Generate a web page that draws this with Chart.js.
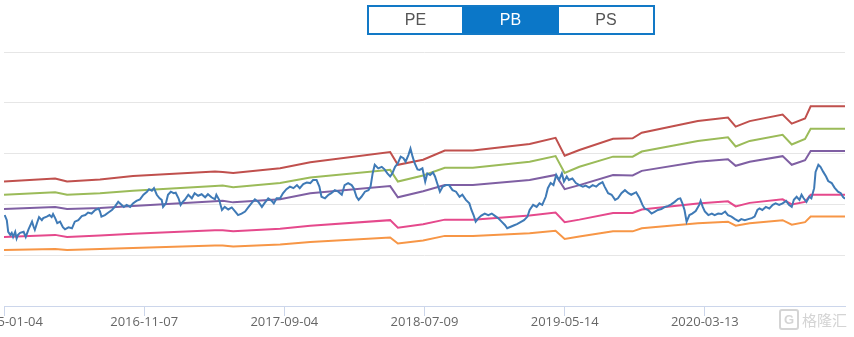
<!DOCTYPE html>
<html>
<head>
<meta charset="utf-8">
<script src="https://cdn.jsdelivr.net/npm/chart.js@4.4.1/dist/chart.umd.min.js"></script>
<style>
  html, body { margin: 0; padding: 0; background: #fff; width: 854px; height: 337px; overflow: hidden; }
  #wrap { position: absolute; left: -60px; top: 0; width: 914px; height: 337px; }
  .tabs { position: absolute; left: 367px; top: 5px; width: 288px; height: 30px; box-sizing: border-box;
          border: 2px solid #1279c6; display: flex; font-family: "Liberation Sans", Arial, sans-serif; font-size: 16px; }
  .tabs div { text-align: center; line-height: 26px; color: #555; }
  .tabs .on { background: #0b77c8; color: #fff; }
  .mark { position: absolute; left: 779px; top: 308px; height: 22px; display: flex; align-items: center; color: #d4d4d4; }
  .mark .g { width: 16px; height: 17px; border: 2px solid #d4d4d4; border-radius: 3px; font: bold 13px "Liberation Sans", sans-serif;
             line-height: 17px; text-align: center; margin-right: 3px; }
  .mark .t { font: 15px "Noto Sans CJK SC", sans-serif; letter-spacing: 0px; }
</style>
</head>
<body>
<div id="wrap"><canvas id="c"></canvas></div>
<div class="tabs">
  <div style="width:93px">PE</div>
  <div class="on" style="width:97px">PB</div>
  <div style="width:94px">PS</div>
</div>
<div class="mark"><div class="g">G</div><div class="t">格隆汇</div></div>
<script>
// x axis: trading-day index, labelled every 200 days
const tickDays = [0, 200, 400, 600, 800, 1000];
const tickLabels = ['2015-01-04', '2016-11-07', '2017-09-04', '2018-07-09', '2019-05-14', '2020-03-13'];

// daily PB (trading day, value)
const pbPoints = [
  [1,1.79],[4,1.69],[6,1.46],[9,1.40],[11,1.44],[13,1.36],[16,1.46],[18,1.33],[20,1.40],[23,1.44],
  [28,1.46],[31,1.36],[35,1.51],[40,1.66],[42,1.57],[44,1.50],[47,1.63],[50,1.75],[54,1.69],[56,1.73],
  [61,1.76],[65,1.79],[68,1.75],[70,1.81],[73,1.73],[76,1.63],[80,1.66],[84,1.55],[87,1.51],[92,1.55],
  [97,1.53],[101,1.66],[106,1.69],[111,1.77],[116,1.79],[120,1.84],[125,1.82],[130,1.89],[135,1.92],[137,1.86],
  [139,1.76],[144,1.79],[149,1.84],[154,1.89],[158,1.95],[163,2.05],[168,1.99],[171,1.95],[175,1.99],[180,1.95],
  [184,2.02],[189,2.07],[194,2.10],[199,2.19],[204,2.25],[207,2.30],[211,2.27],[214,2.32],[218,2.19],[222,2.12],
  [225,2.09],[227,1.95],[231,2.02],[234,2.19],[238,2.25],[242,2.22],[245,2.23],[249,2.12],[252,1.99],[255,2.05],
  [258,2.09],[263,2.19],[268,2.12],[272,2.22],[277,2.17],[282,2.20],[287,2.14],[291,2.20],[296,2.14],[301,2.10],
  [303,2.19],[307,2.09],[311,1.89],[315,1.95],[320,1.90],[325,1.94],[330,1.86],[334,1.79],[339,1.82],[344,1.86],
  [349,1.95],[353,2.02],[358,2.10],[363,2.05],[368,1.95],[372,2.03],[377,2.12],[382,2.07],[385,2.02],[389,2.12],
  [394,2.12],[398,2.22],[403,2.30],[408,2.35],[413,2.32],[418,2.38],[422,2.32],[427,2.40],[432,2.43],[437,2.42],
  [441,2.48],[446,2.48],[450,2.35],[453,2.15],[458,2.12],[463,2.19],[467,2.22],[472,2.28],[477,2.25],[482,2.19],
  [486,2.38],[491,2.42],[496,2.38],[499,2.32],[503,2.15],[506,2.09],[510,2.15],[515,2.25],[520,2.28],[523,2.35],
  [526,2.61],[529,2.78],[534,2.71],[539,2.74],[543,2.69],[547,2.61],[551,2.55],[554,2.61],[558,2.74],[562,2.81],
  [566,2.94],[570,2.91],[573,2.84],[577,2.97],[580,3.10],[583,2.94],[586,2.81],[590,2.69],[593,2.68],[597,2.71],
  [601,2.45],[604,2.61],[608,2.58],[612,2.63],[615,2.55],[618,2.42],[622,2.25],[626,2.35],[631,2.38],[635,2.38],
  [640,2.28],[645,2.25],[650,2.15],[654,2.19],[659,2.09],[664,2.02],[667,1.89],[670,1.79],[673,1.66],[677,1.73],
  [681,1.78],[686,1.82],[691,1.79],[696,1.82],[700,1.78],[705,1.73],[710,1.66],[715,1.59],[718,1.53],[723,1.56],
  [728,1.59],[732,1.61],[737,1.65],[742,1.69],[747,1.76],[750,1.89],[755,1.99],[760,1.95],[764,2.02],[768,1.99],
  [773,2.15],[776,2.32],[780,2.42],[784,2.38],[788,2.58],[792,2.48],[796,2.61],[799,2.45],[803,2.55],[806,2.48],
  [811,2.51],[816,2.42],[821,2.38],[826,2.35],[830,2.37],[835,2.33],[840,2.38],[845,2.35],[849,2.40],[854,2.44],
  [857,2.35],[862,2.22],[867,2.19],[872,2.09],[876,2.12],[881,2.22],[886,2.28],[891,2.22],[895,2.19],[902,2.24],
  [907,2.12],[911,1.99],[914,1.92],[919,1.89],[924,1.82],[929,1.86],[933,1.89],[938,1.91],[943,1.95],[948,1.97],
  [952,2.00],[957,2.05],[962,2.11],[965,2.12],[968,2.02],[971,1.89],[974,1.66],[978,1.79],[982,1.82],[987,1.87],
  [992,1.99],[994,2.07],[997,1.95],[1000,1.86],[1005,1.79],[1010,1.82],[1014,1.79],[1019,1.82],[1024,1.81],[1029,1.86],
  [1033,1.79],[1038,1.76],[1043,1.71],[1048,1.67],[1052,1.71],[1057,1.69],[1062,1.71],[1067,1.73],[1071,1.76],[1075,1.89],
  [1078,1.92],[1082,1.89],[1087,1.95],[1092,1.92],[1097,1.99],[1101,2.02],[1106,1.99],[1111,2.02],[1116,2.07],[1120,1.99],
  [1124,1.95],[1127,2.09],[1131,2.15],[1135,2.09],[1138,2.19],[1141,2.12],[1145,2.05],[1149,2.15],[1152,2.12],[1156,2.32],
  [1158,2.64],[1162,2.78],[1165,2.74],[1169,2.64],[1173,2.55],[1176,2.46],[1181,2.42],[1185,2.33],[1190,2.25],[1194,2.22],
  [1197,2.15],[1200,2.11]
];

// PB band lines, sampled at the days where their slope changes
const bandDays   = [0,73,90,137,184,301,312,327,394,437,551,562,598,629,669,750,787,800,821,869,897,910,990,1033,1044,1064,1111,1124,1143,1151,1200];
const bandTop    = [2.45,2.51,2.45,2.49,2.56,2.65,2.64,2.62,2.71,2.83,3.03,2.78,2.88,3.06,3.06,3.19,3.31,2.96,3.07,3.29,3.30,3.41,3.64,3.71,3.53,3.64,3.77,3.59,3.69,3.93,3.93];
const bandUpper  = [2.19,2.24,2.19,2.22,2.27,2.36,2.37,2.34,2.42,2.53,2.68,2.45,2.57,2.72,2.72,2.84,2.95,2.62,2.74,2.94,2.94,3.04,3.25,3.32,3.14,3.25,3.37,3.18,3.29,3.49,3.49];
const bandMiddle = [1.91,1.95,1.91,1.93,1.97,2.06,2.07,2.04,2.10,2.22,2.36,2.14,2.26,2.38,2.38,2.48,2.58,2.30,2.38,2.58,2.57,2.66,2.84,2.89,2.76,2.84,2.95,2.78,2.87,3.05,3.05];
const bandLower  = [1.36,1.40,1.36,1.39,1.42,1.49,1.49,1.47,1.52,1.58,1.69,1.54,1.61,1.70,1.70,1.78,1.84,1.65,1.70,1.83,1.83,1.90,2.02,2.06,1.96,2.03,2.10,2.00,2.05,2.19,2.19];
const bandBottom = [1.10,1.12,1.10,1.12,1.14,1.19,1.19,1.17,1.21,1.26,1.35,1.23,1.29,1.38,1.38,1.43,1.48,1.32,1.37,1.47,1.47,1.53,1.63,1.66,1.58,1.63,1.69,1.60,1.65,1.76,1.76];

const toXY = (days, vals) => days.map((d, i) => ({ x: d, y: vals[i] }));
const line = (label, data, color) => ({
  label, data, borderColor: color, backgroundColor: color,
  borderWidth: 2, pointRadius: 0, tension: 0, fill: false
});

new Chart(document.getElementById('c'), {
  type: 'line',
  data: {
    datasets: [
      line('PB', pbPoints.map(p => ({ x: p[0], y: p[1] })), '#3f7ab6'),
      line('Top', toXY(bandDays, bandTop), '#c0504d'),
      line('Upper', toXY(bandDays, bandUpper), '#9bbb59'),
      line('Middle', toXY(bandDays, bandMiddle), '#7f5fa3'),
      line('Lower', toXY(bandDays, bandLower), '#e5498c'),
      line('Bottom', toXY(bandDays, bandBottom), '#f79646')
    ]
  },
  options: {
    responsive: true,
    maintainAspectRatio: false,
    animation: false,
    layout: { padding: { left: 64, right: 9, top: 52, bottom: 0 } },
    plugins: { legend: { display: false }, tooltip: { enabled: false } },
    scales: {
      x: {
        type: 'linear', min: 0, max: 1200,
        afterBuildTicks: s => { s.ticks = tickDays.map(v => ({ value: v })); },
        afterFit: s => { s.height = 31; },
        grid: { drawOnChartArea: false, drawTicks: true, tickLength: 10, color: '#ccd6eb' },
        border: { color: '#ccd6eb', width: 1 },
        ticks: {
          autoSkip: false, maxRotation: 0, padding: -2, color: '#666',
          font: { family: '"Open Sans", sans-serif', size: 13 },
          callback: v => {
            const i = tickDays.indexOf(v);
            if (i < 0) return '';
            return i === 0 ? '   ' + tickLabels[i] : tickLabels[i];
          }
        }
      },
      y: {
        min: 0, max: 5,
        afterFit: s => { s.width = 0; },
        ticks: { display: false, stepSize: 1 },
        grid: { color: '#e6e6e6', drawTicks: false },
        border: { display: false }
      }
    }
  }
});
</script>
</body>
</html>
